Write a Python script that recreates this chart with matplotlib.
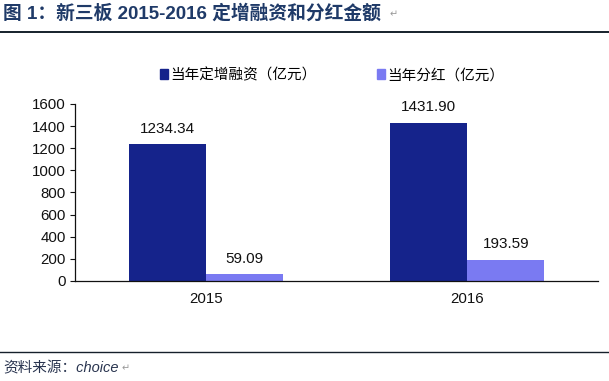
import matplotlib
matplotlib.use("Agg")
import matplotlib.pyplot as plt
import numpy as np
from matplotlib.patches import Patch
from matplotlib.lines import Line2D

plt.rcParams['font.family'] = ['Liberation Sans', 'Noto Sans CJK SC', 'DejaVu Sans']

# data
years = ['2015', '2016']
financing = [1234.34, 1431.90]   # 当年定增融资（亿元）
dividend = [59.09, 193.59]       # 当年分红（亿元）
series_names = ['当年定增融资（亿元）', '当年分红（亿元）']
yticks = [0, 200, 400, 600, 800, 1000, 1200, 1400, 1600]

c_dark = '#15238b'
c_light = '#7a7af2'
c_title = '#1f3a68'

fig = plt.figure(figsize=(6.09, 3.81), dpi=100)
ax = fig.add_axes([75 / 609, 1 - 281 / 381, (598 - 75) / 609, (281 - 104) / 381])

x = np.arange(len(years))
w = 0.295
b1 = ax.bar(x - w / 2, financing, width=w, color=c_dark)
b2 = ax.bar(x + w / 2, dividend, width=w, color=c_light)

for bars, vals in [(b1, financing), (b2, dividend)]:
    for r, v in zip(bars, vals):
        ax.annotate(f'{v:.2f}', (r.get_x() + r.get_width() / 2, v),
                    xytext=(0, 6), textcoords='offset points',
                    ha='center', va='bottom', fontsize=11, color='#111111')

ax.set_xlim(-0.5, 1.5)
ax.set_ylim(0, 1600)
ax.set_yticks(yticks)
ax.set_xticks(x)
ax.set_xticklabels(years)
ax.tick_params(axis='y', length=3.5, width=0.8, labelsize=10.8, pad=3, colors='#111111')
ax.tick_params(axis='x', length=0, labelsize=10.8, pad=8, colors='#111111')
for s in ['top', 'right']:
    ax.spines[s].set_visible(False)
for s in ['left', 'bottom']:
    ax.spines[s].set_color('#111111')
    ax.spines[s].set_linewidth(0.9)

handles = [Patch(color=c_dark), Patch(color=c_light)]
fig.legend(handles, series_names, ncol=2, loc='center',
           bbox_to_anchor=(332 / 609, 1 - 75 / 381), frameon=False,
           handlelength=0.6, handleheight=0.7,
           handletextpad=0.15, columnspacing=4.1,
           prop={'family': ['Noto Sans CJK SC'], 'size': 10.5})

# title and frame lines
fig.text(3 / 609, 1 - 13 / 381, '图 1：新三板 2015-2016 定增融资和分红金额',
         fontsize=13.5, fontweight='bold', color=c_title, va='center', ha='left')
fig.text(390 / 609, 1 - 14 / 381, '↵', fontsize=7, color='#999999', va='center',
         family=['DejaVu Sans'])
fig.add_artist(Line2D([0, 1], [1 - 32 / 381] * 2, color='#15202b', lw=1.4))
fig.add_artist(Line2D([0, 1], [1 - 352 / 381] * 2, color='#15202b', lw=1.0))
fig.text(3 / 609, 1 - 368 / 381, '资料来源：choice', fontsize=10.5, style='italic',
         color='#2a3550', va='center', ha='left')
fig.text(122 / 609, 1 - 368 / 381, '↵', fontsize=7, color='#999999', va='center',
         family=['DejaVu Sans'])

fig.savefig('out.png', dpi=100)
